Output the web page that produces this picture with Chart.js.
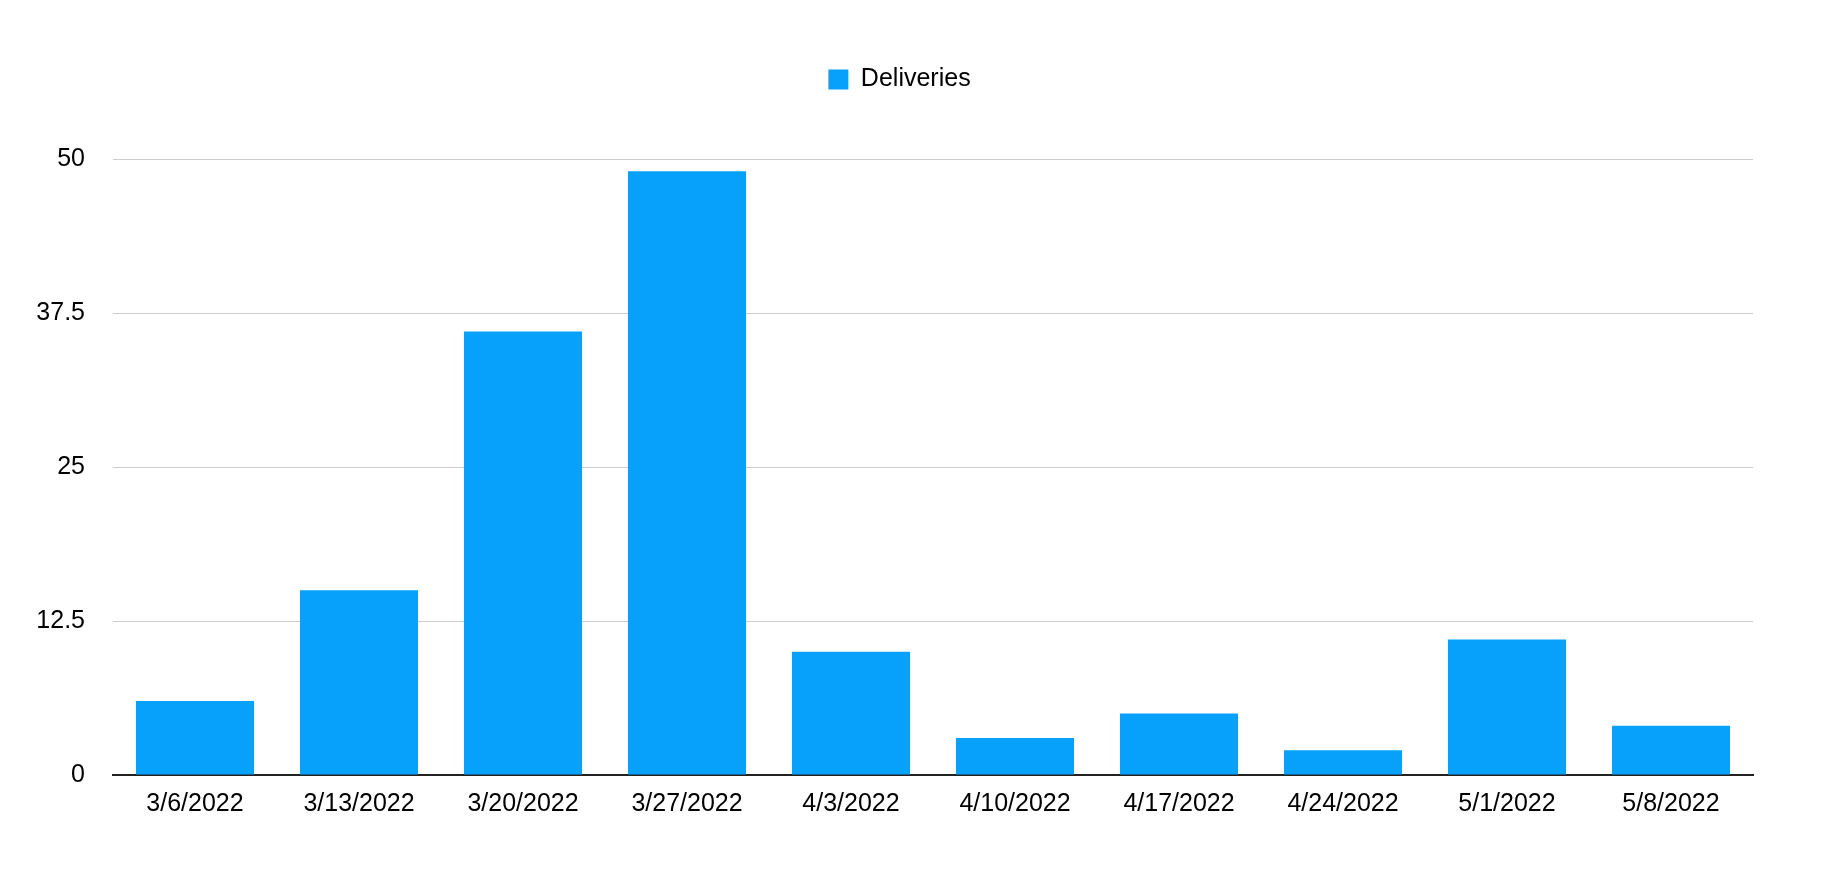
<!DOCTYPE html>
<html>
<head>
<meta charset="utf-8">
<script src="https://cdn.jsdelivr.net/npm/chart.js@4/dist/chart.umd.min.js"></script>
<style>
  html, body { margin: 0; padding: 0; background: #fff; }
  #wrap { width: 1828px; height: 874px; position: relative; }
</style>
</head>
<body>
<div id="wrap"><canvas id="c" width="1828" height="874"></canvas></div>
<script>
const categories = ["3/6/2022", "3/13/2022", "3/20/2022", "3/27/2022", "4/3/2022", "4/10/2022", "4/17/2022", "4/24/2022", "5/1/2022", "5/8/2022"];
const deliveries = [6, 15, 36, 49, 10, 3, 5, 2, 11, 4];
const seriesName = "Deliveries";
const yMin = 0;
const yMax = 50;
const yStep = 12.5;

const FONT = "'Liberation Sans', Arial, Helvetica, sans-serif";

const legendPlugin = {
  id: 'legendTweak',
  beforeInit(chart) {
    const lg = chart.legend;
    if (lg) {
      const origFit = lg.fit;
      lg.fit = function () { origFit.call(this); this.height = 159; };
      const origDraw = lg.draw;
      lg.draw = function () {
        const l = this.left;
        this.left = l + 46;
        origDraw.call(this);
        this.left = l;
      };
    }
  }
};

new Chart(document.getElementById('c'), {
  type: 'bar',
  data: {
    labels: categories,
    datasets: [{
      label: seriesName,
      data: deliveries,
      backgroundColor: '#07A1FC',
      borderWidth: 0,
      categoryPercentage: 1.0,
      barPercentage: 0.72
    }]
  },
  plugins: [legendPlugin],
  options: {
    responsive: false,
    animation: false,
    layout: { padding: { left: 0, right: 75, top: 0, bottom: 0 } },
    plugins: {
      legend: {
        display: true,
        position: 'top',
        labels: {
          boxWidth: 20,
          boxHeight: 20,
          padding: 67,
          color: '#000',
          font: { family: FONT, size: 25 }
        }
      },
      tooltip: { enabled: false }
    },
    scales: {
      x: {
        grid: { display: false, drawTicks: false },
        border: { display: true, color: '#222', width: 2 },
        ticks: { color: '#000', padding: 14, font: { family: FONT, size: 25 }, maxRotation: 0 },
        afterFit(s) { s.height = 99; }
      },
      y: {
        min: yMin,
        max: yMax,
        grid: { color: '#cccccc', lineWidth: 1, drawTicks: false },
        border: { display: false },
        ticks: { stepSize: yStep, color: '#000', padding: 28, font: { family: FONT, size: 25 } },
        afterFit(s) { s.width = 113; }
      }
    }
  }
});
</script>
</body>
</html>
